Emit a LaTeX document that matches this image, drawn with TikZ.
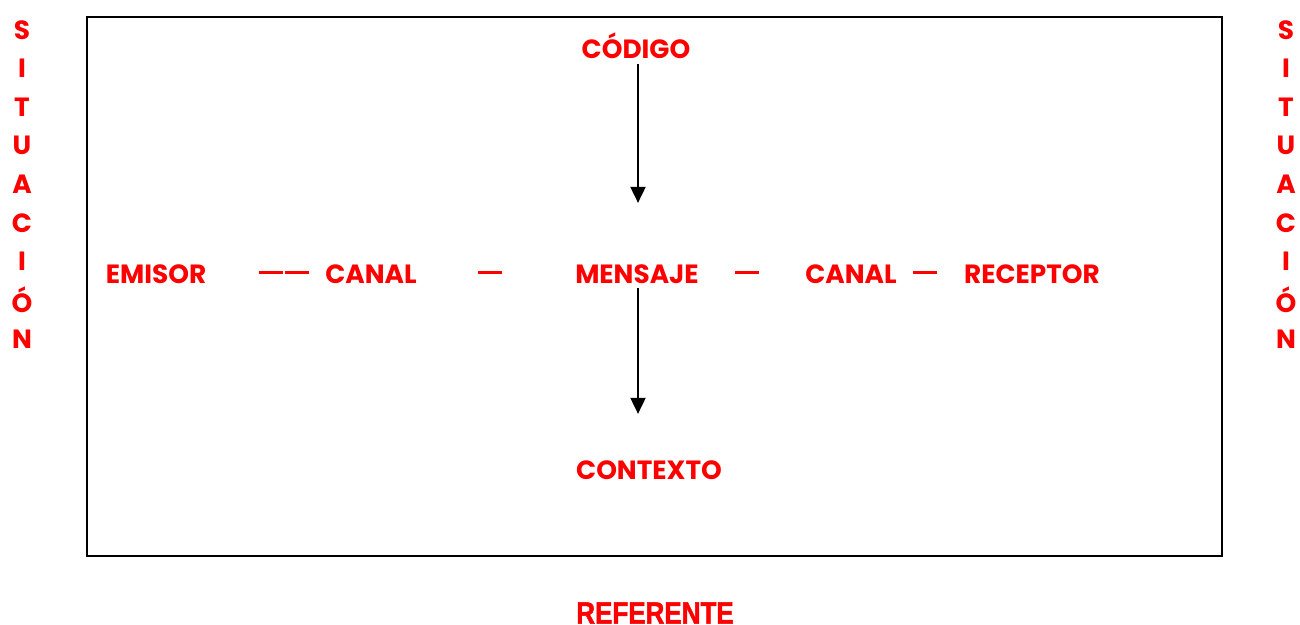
\documentclass[tikz,border=0pt]{standalone}
\usepackage{fontspec}
\setmainfont{Poppins}
\newfontfamily\narrowfont{Liberation Sans}[FakeStretch=0.85, FakeBold=1.6]
\usepackage{xcolor}
\usetikzlibrary{arrows.meta, positioning}
\definecolor{rojo}{RGB}{255,0,0}
\tikzset{
    etiqueta/.style={text=rojo, font=\fontsize{7.5}{8}\selectfont\bfseries, inner sep=0pt},
    letra/.style={etiqueta, anchor=center},
    flecha/.style={thick, -{Triangle[length=4.6pt,width=4.2pt]}}
}
\def\raya{\textcolor{rojo}{\rule[1.7pt]{7pt}{0.85pt}}}
\def\vertical#1{
    \foreach \l [count=\i from 0] in {S,I,T,U,A,C,I,Ó,N}
        \node[letra] (#1-\i) at (\x,{30+\i*38.6}) {\l};
}
\begin{document}
\begin{tikzpicture}[x=0.01cm, y=-0.01cm]
    \useasboundingbox (0,0) rectangle (1300,625);

    % Frame
    \draw[thick] (87,17) rectangle (1222,556);

    % Situacion (both sides)
    \def\x{22}
    \vertical{izq}
    \def\x{1286}
    \vertical{der}

    % Main row
    \node[etiqueta] (mensaje) at (637,274) {MENSAJE};
    \node[etiqueta] (emisor) at (156,274) {EMISOR};
    \node[etiqueta] (canal1) at (371,274) {CANAL};
    \node[etiqueta] (canal2) at (851,274) {CANAL};
    \node[etiqueta] (receptor) at (1032,274) {RECEPTOR};
    \node[etiqueta, anchor=base] (guion1) at (284,280) {\raya\hspace{0.4pt}\raya};
    \node[etiqueta, anchor=base] (guion2) at (490,280) {\raya};
    \node[etiqueta, anchor=base] (guion3) at (747,280) {\raya};
    \node[etiqueta, anchor=base] (guion4) at (925,280) {\raya};

    % Codigo and contexto
    \node[etiqueta] (codigo) at (636,46) {CÓDIGO};
    \node[etiqueta] (contexto) at (649,470) {CONTEXTO};
    \node[etiqueta, font=\fontsize{8.7}{9}\selectfont\narrowfont\bfseries] (referente) at (655,613) {REFERENTE};

    % Arrows
    \coordinate (a1) at (638,64);
    \coordinate (b1) at (638,203);
    \coordinate (a2) at (638,288);
    \coordinate (b2) at (638,414);
    \draw[flecha] (a1) -- (b1);
    \draw[flecha] (a2) -- (b2);
\end{tikzpicture}
\end{document}
